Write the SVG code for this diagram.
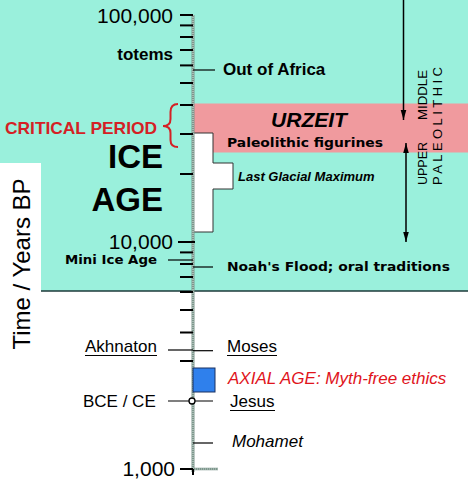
<svg xmlns="http://www.w3.org/2000/svg" width="468" height="494" viewBox="0 0 468 494">
<defs>
<style>
.ar{font-family:"Liberation Sans",Arial,sans-serif}
.px{font-family:"DejaVu Sans",sans-serif;font-weight:bold;font-size:13px}
.tk{stroke:#000;stroke-width:2}
.ln{stroke:#000;stroke-width:1.2}
.ul{stroke:#000;stroke-width:1.2}
</style>
<marker id="ah" viewBox="0 0 10 10" refX="10" refY="5" markerWidth="10" markerHeight="10" markerUnits="userSpaceOnUse" orient="auto-start-reverse">
<path d="M0,2.2 L10,5 L0,7.8 Z" fill="#000"/>
</marker>
</defs>
<rect width="468" height="494" fill="#fff"/>
<g id="background">
<polygon points="0,0 468,0 468,291 41,291 41,163 0,163" fill="#9af0dc"/>
<line x1="41" y1="291" x2="468" y2="291" stroke="#1d3a3a" stroke-width="1.5"/>
<rect x="194" y="103.5" width="274" height="49" fill="#f09a9e"/>
</g>
<g id="ice-age-shape">
<polygon points="193,133 213,133 213,163 233,163 233,189 213,189 213,232 193,232" fill="#fff" stroke="#333" stroke-width="1"/>
</g>
<g id="axis">
<line x1="193" y1="15" x2="193" y2="472" stroke="#7d968c" stroke-width="3"/>
<line x1="193" y1="15" x2="193" y2="472" stroke="#d4e2dc" stroke-width="1" stroke-dasharray="1 1"/>
<line x1="193" y1="469" x2="218" y2="469" stroke="#7d968c" stroke-width="2.5"/>
<line x1="193" y1="469" x2="218" y2="469" stroke="#d4e2dc" stroke-width="0.8" stroke-dasharray="1 1"/>
</g>
<g id="ticks">
<line class="tk" x1="180" y1="15" x2="193" y2="15"/>
<line class="tk" x1="180" y1="25.4" x2="193" y2="25.4"/>
<line class="tk" x1="180" y1="37" x2="193" y2="37"/>
<line class="tk" x1="180" y1="50" x2="193" y2="50"/>
<line class="tk" x1="180" y1="65.4" x2="193" y2="65.4"/>
<line class="tk" x1="180" y1="83" x2="193" y2="83"/>
<line class="tk" x1="180" y1="105" x2="193" y2="105"/>
<line class="tk" x1="180" y1="134" x2="193" y2="134"/>
<line class="tk" x1="180" y1="174" x2="193" y2="174"/>
<line class="tk" x1="178" y1="242" x2="195" y2="242"/>
<line class="tk" x1="180" y1="252.4" x2="193" y2="252.4"/>
<line class="tk" x1="180" y1="264" x2="193" y2="264"/>
<line class="tk" x1="180" y1="277" x2="193" y2="277"/>
<line class="tk" x1="180" y1="292" x2="193" y2="292"/>
<line class="tk" x1="180" y1="310" x2="193" y2="310"/>
<line class="tk" x1="180" y1="332.5" x2="193" y2="332.5"/>
<line class="tk" x1="180" y1="361" x2="193" y2="361"/>
<line class="tk" x1="180" y1="469" x2="193" y2="469"/>
<line class="tk" x1="193" y1="469" x2="193" y2="475"/>
</g>
<g id="connectors">
<line class="ln" x1="193" y1="70" x2="215" y2="70"/>
<line class="ln" x1="168" y1="260" x2="193" y2="260"/>
<line class="ln" x1="193" y1="267" x2="213" y2="267"/>
<line class="ln" x1="168" y1="350" x2="193" y2="350"/>
<line class="ln" x1="193" y1="350.7" x2="213" y2="350.7"/>
<line class="ln" x1="168" y1="401" x2="213" y2="401"/>
<line class="ln" x1="193" y1="443" x2="213" y2="443"/>
<circle cx="192" cy="401" r="3" fill="#fff" stroke="#000" stroke-width="1.3"/>
<line x1="403.5" y1="0" x2="403.5" y2="120" stroke="#000" stroke-width="1.5" marker-end="url(#ah)"/>
<line x1="406" y1="143" x2="406" y2="242" stroke="#000" stroke-width="1.5" marker-start="url(#ah)" marker-end="url(#ah)"/>
</g>
<g id="scale-labels" class="ar" font-size="21" text-anchor="end">
<text x="173" y="22.5">100,000</text>
<text x="173" y="249">10,000</text>
<text x="175" y="476">1,000</text>
</g>
<g id="axis-title">
<text class="ar" font-size="24" text-anchor="middle" transform="translate(30,264) rotate(-90)">Time / Years BP</text>
</g>
<g id="totems"><text class="ar" font-size="17" font-weight="bold" x="173" y="60" text-anchor="end">totems</text></g>
<g id="out-of-africa"><text class="ar" font-size="17" font-weight="bold" x="223" y="75">Out of Africa</text></g>
<g id="critical-period">
<text class="ar" font-size="17" font-weight="bold" fill="#d42024" x="5" y="133.5" textLength="152" lengthAdjust="spacingAndGlyphs">CRITICAL PERIOD</text>
<path d="M178,104 Q170.5,104 170.5,112 L170.5,119 Q170.5,126 163,126 Q170.5,126 170.5,133 L170.5,140 Q170.5,147 178,147" fill="none" stroke="#d42024" stroke-width="2"/>
</g>
<g id="urzeit">
<text class="ar" font-size="21" font-weight="bold" font-style="italic" x="309" y="127" text-anchor="middle">URZEIT</text>
<text class="px" x="227" y="147" textLength="156" lengthAdjust="spacingAndGlyphs">Paleolithic figurines</text>
</g>
<g id="ice-age">
<text class="ar" font-size="33" font-weight="bold" x="163" y="168" text-anchor="end">ICE</text>
<text class="ar" font-size="33" font-weight="bold" x="163" y="211" text-anchor="end">AGE</text>
</g>
<g id="lgm"><text class="ar" font-size="13" font-weight="bold" font-style="italic" x="238" y="181">Last Glacial Maximum</text></g>
<g id="paleolithic">
<text class="ar" font-size="13" transform="translate(427,120) rotate(-90)" textLength="50" lengthAdjust="spacingAndGlyphs">MIDDLE</text>
<text class="ar" font-size="13" transform="translate(427,185) rotate(-90)" textLength="43" lengthAdjust="spacingAndGlyphs">UPPER</text>
<text class="ar" font-size="13" transform="translate(442,185) rotate(-90)" textLength="118" lengthAdjust="spacing">PALEOLITHIC</text>
</g>
<g id="mini-ice-age"><text class="px" font-size="12" x="65" y="264" textLength="92" lengthAdjust="spacingAndGlyphs">Mini Ice Age</text></g>
<g id="noah"><text class="px" x="227" y="271" textLength="223" lengthAdjust="spacingAndGlyphs">Noah's Flood; oral traditions</text></g>
<g id="akhnaton">
<text class="ar" font-size="17" x="85" y="352">Akhnaton</text>
<line class="ul" x1="85" y1="355.5" x2="157" y2="355.5"/>
</g>
<g id="moses">
<text class="ar" font-size="17" x="227" y="352">Moses</text>
<line class="ul" x1="227" y1="355.5" x2="277" y2="355.5"/>
</g>
<g id="axial-age">
<rect x="193" y="368" width="22" height="24" fill="#2f80ec" stroke="#1a3060" stroke-width="1"/>
<text class="ar" font-size="17" font-style="italic" fill="#e0141c" x="228" y="384">AXIAL AGE: Myth-free ethics</text>
</g>
<g id="bce-ce"><text class="ar" font-size="17" x="83" y="407">BCE / CE</text></g>
<g id="jesus">
<text class="ar" font-size="17" x="230" y="407">Jesus</text>
<line class="ul" x1="230" y1="410.5" x2="275" y2="410.5"/>
</g>
<g id="mohamet"><text class="ar" font-size="17" font-style="italic" x="232" y="447">Mohamet</text></g>
</svg>
